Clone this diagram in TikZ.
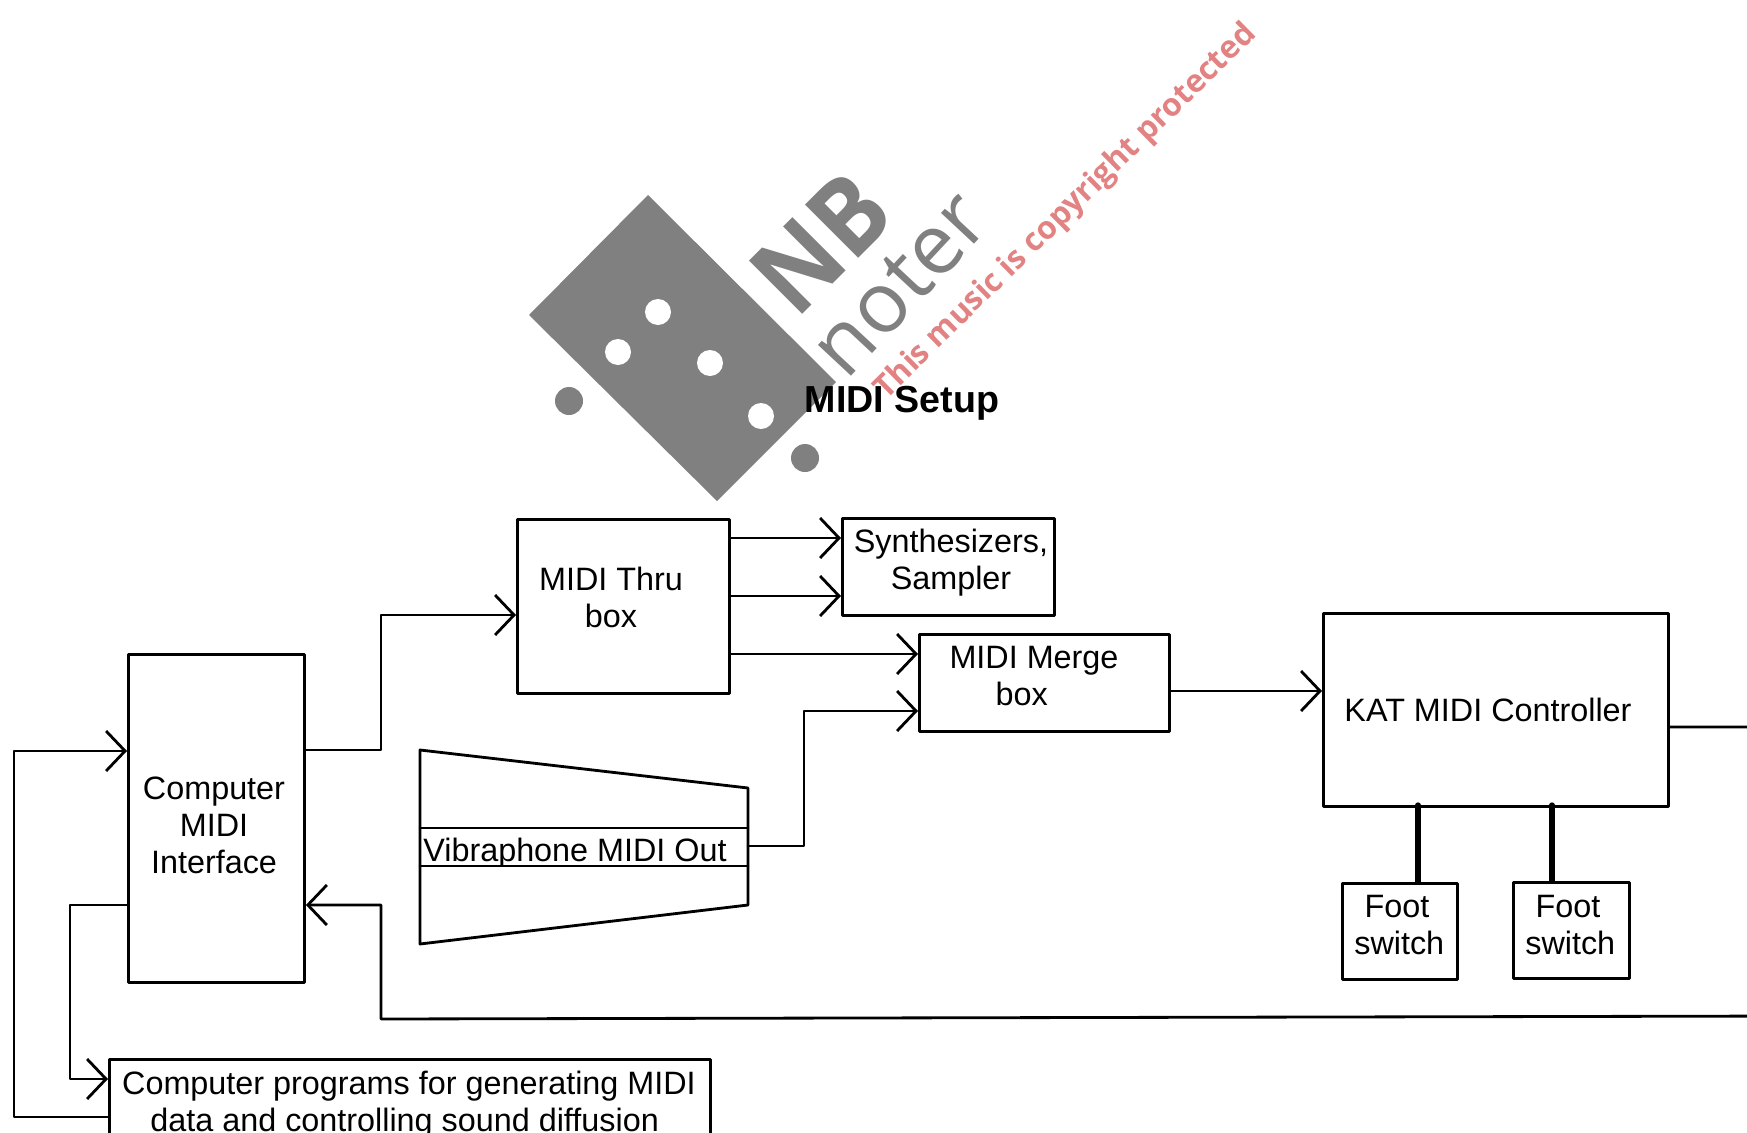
\documentclass[tikz,border=0pt]{standalone}
\usepackage{fontspec}
\setmainfont{Liberation Sans}
\newfontfamily\markfont{Open Sans}
\usetikzlibrary{arrows.meta}
\definecolor{logogray}{RGB}{128,128,128}
\definecolor{markred}{RGB}{226,130,130}
\tikzset{
  box/.style={draw,line width=.8pt,inner sep=0pt,anchor=north west},
  lbl/.style={align=center,inner sep=0pt,font=\fontsize{9.2}{10.5}\selectfont},
  wire/.style={line width=.8pt},
  pedal/.style={line width=1.5pt},
}
\begin{document}
\begin{tikzpicture}[>={Straight Barb[length=1.9mm,width=4mm]},x=.01cm,y=-.01cm, line join=round, line cap=round]
    \useasboundingbox (0,0) rectangle (1747,1133);
    \clip (0,0) rectangle (1747,1133);
    \fill[logogray] (648,195)--(529,315)--(717,501)--(836,382)--cycle;
    \fill[white] (658,312) circle (13) (618,352) circle (13) (710,363) circle (13) (761,416) circle (13);
    \fill[logogray] (569,401) circle (14) (805,458) circle (14);
    \node[rotate=45,text=logogray,xscale=.92,font=\markfont\bfseries\fontsize{30}{30}\selectfont] (nb) at (821,243) {NB};
    \node[rotate=47,text=logogray,font=\markfont\fontsize{24}{24}\selectfont] (noter) at (900,284) {noter};
    \node[font=\bfseries\fontsize{10.7}{12}\selectfont] (title) at (902,403) {MIDI Setup};
    \node[rotate=44.5,text=markred,font=\markfont\bfseries\fontsize{9}{10}\selectfont] (mark) at (1066,212) {This music is copyright protected};

    \node[box,text width=1.76cm,minimum height=3.28cm] (iface) at (127,653) {};
    \node[box,text width=2.12cm,minimum height=1.74cm] (thru) at (516,518) {};
    \node[box,text width=2.12cm,minimum height=.97cm] (synth) at (841,517) {};
    \node[box,text width=2.5cm,minimum height=.97cm] (merge) at (918,633) {};
    \node[box,text width=3.45cm,minimum height=1.93cm] (kat) at (1322,612) {};
    \node[box,text width=1.15cm,minimum height=.96cm] (foota) at (1341,882) {};
    \node[box,text width=1.16cm,minimum height=.96cm] (footb) at (1512,881) {};
    \node[box,text width=6.01cm,minimum height=1cm] (prog) at (108,1058) {};

    \node[lbl] (ifacetxt) at (214,825) {Computer\\MIDI\\Interface};
    \node[lbl] (thrutxt) at (611,597) {MIDI Thru\\box};
    \node[lbl] (synthtxt) at (951,563) {Synthesizers,\\Sampler};
    \node[lbl] (mergetxt) at (1034,676) {MIDI Merge\\box\hspace*{7pt}};
    \node[lbl] (kattxt) at (1488,710) {KAT MIDI Controller};
    \node[lbl] (footatxt) at (1397,925) {Foot\\\hspace*{1.3pt}switch};
    \node[lbl] (footbtxt) at (1568,925) {Foot\\\hspace*{1.3pt}switch};
    \node[lbl] (progtxt) at (409,1105) {Computer programs for generating MIDI\\data and controlling sound diffusion\hspace*{2.5pt}};

    \draw[wire] (420,750)--(748,788)--(748,905)--(420,944)--cycle;
    \draw[wire] (420,828)--(748,828) (420,866)--(748,866);
    \coordinate (vibout) at (748,846);
    \begin{scope}
        \clip (420,829) rectangle (748,865);
        \node[lbl] (vibtxt) at (575,853) {Vibraphone MIDI Out};
    \end{scope}

    \draw[wire,->] (iface.east |- 0,750)--(381,750)--(381,615)--(thru.west |- 0,615);
    \draw[wire,->] (thru.east |- 0,538)--(synth.west |- 0,538);
    \draw[wire,->] (thru.east |- 0,596)--(synth.west |- 0,596);
    \draw[wire,->] (thru.east |- 0,654)--(merge.west |- 0,654);
    \draw[wire,->] (vibout)--(804,846)--(804,711)--(merge.west |- 0,711);
    \draw[wire,->] (merge.east |- 0,691)--(kat.west |- 0,691);
    \draw[wire,->] (kat.east |- 0,727)--(1800,727)--(1800,1016)--(381,1019)--(381,905)--(iface.east |- 0,905);
    \draw[wire,->] (iface.west |- 0,905)--(70,905)--(70,1079)--(prog.west |- 0,1079);
    \draw[wire,->] (prog.west |- 0,1117)--(14,1117)--(14,751)--(iface.west |- 0,751);
    \draw[pedal] (1418,805)--(foota.north -| 1418,0);
    \draw[pedal] (1552,805)--(footb.north -| 1552,0);
\end{tikzpicture}
\end{document}
